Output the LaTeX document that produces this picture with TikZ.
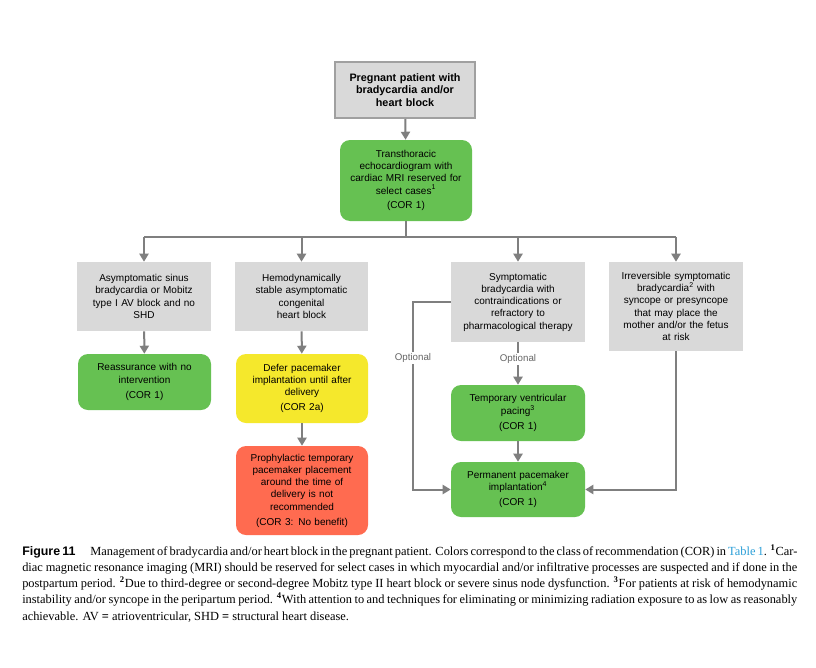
\documentclass[tikz,border=0pt]{standalone}
\usepackage{fontspec}
\setmainfont{Liberation Serif}
\newfontfamily\arial{Liberation Sans}
\usetikzlibrary{arrows.meta}
\definecolor{boxgray}{HTML}{D9D9D9}
\definecolor{bordergray}{HTML}{A0A0A0}
\definecolor{corgreen}{HTML}{66C152}
\definecolor{coryellow}{HTML}{F5E82C}
\definecolor{corred}{HTML}{FF6B50}
\definecolor{arrgray}{HTML}{7F7F7F}
\definecolor{linkblue}{HTML}{2B9FD8}
\newcommand{\capline}[1]{\makebox[581.25pt][s]{#1}}
\newcommand{\caplast}[1]{\makebox[581.25pt][l]{#1}}
\newcommand{\fnum}[1]{\textsuperscript{\textbf{#1}}}
\tikzset{
  sz/.style 2 args={minimum width={#1*0.75pt}, minimum height={#2*0.75pt}, text width={(#1-6)*0.75pt}},
  box/.style={inner sep=0pt, align=center, font=\arial\fontsize{7.5}{9.2}\selectfont},
  graybox/.style={box, fill=boxgray},
  greenbox/.style={box, fill=corgreen, rounded corners=7.5pt},
  yellowbox/.style={box, fill=coryellow, rounded corners=7.5pt},
  redbox/.style={box, fill=corred, rounded corners=7.5pt},
  conn/.style={draw=arrgray, line width=1.5pt},
  arr/.style={conn, -{Triangle[width=6.75pt,length=6pt]}},
  optlabel/.style={fill=white, inner sep=1pt, text=arrgray!80!black, font=\arial\fontsize{7.3}{8}\selectfont},
}
\begin{document}
\begin{tikzpicture}[x=0.75pt,y=-0.75pt]
\useasboundingbox (0,0) rectangle (816,667);
\fill[white] (0,0) rectangle (816,667);

\node[graybox, sz={140}{56}, draw=bordergray, line width=1.5pt, font=\arial\bfseries\fontsize{8.1}{9.4}\selectfont] (top) at (405,90)
  {Pregnant patient with\\bradycardia and/or\\heart block};
\node[greenbox, sz={132}{81}] (tte) at (406,180.5)
  {Transthoracic\\echocardiogram with\\cardiac MRI reserved for\\select cases\textsuperscript{1}\\[2pt](COR 1)};

\node[graybox, sz={134}{69}] (A) at (144,296.5)
  {Asymptomatic sinus\\bradycardia or Mobitz\\type I AV block and no\\SHD};
\node[graybox, sz={133}{69}] (B) at (301.5,296.5)
  {Hemodynamically\\stable asymptomatic\\congenital\\heart block};
\node[graybox, sz={134}{80}] (C) at (518,302)
  {Symptomatic\\bradycardia with\\contraindications or\\refractory to\\pharmacological therapy};
\node[graybox, sz={134}{89}] (D) at (676,306.5)
  {Irreversible symptomatic\\bradycardia\textsuperscript{2} with\\syncope or presyncope\\that may place the\\mother and/or the fetus\\at risk};

\node[greenbox, sz={133}{56}] (reas) at (144.5,382)
  {Reassurance with no\\intervention\\[2pt](COR 1)};
\node[yellowbox, sz={132}{69}] (defer) at (302,388.5)
  {Defer pacemaker\\implantation until after\\delivery\\[2pt](COR 2a)};
\node[redbox, sz={132}{89}] (proph) at (302,490.5)
  {Prophylactic temporary\\pacemaker placement\\around the time of\\delivery is not\\recommended\\[2pt](COR 3: No benefit)};
\node[greenbox, sz={134}{56}] (temp) at (518,413)
  {Temporary ventricular\\pacing\textsuperscript{3}\\[2pt](COR 1)};
\node[greenbox, sz={134}{55}] (perm) at (518,489.5)
  {Permanent pacemaker\\implantation\textsuperscript{4}\\[2pt](COR 1)};

\coordinate (bus) at (406,237);
\coordinate (lx) at (413,400);

\draw[arr] (top) -- (tte);
\draw[conn] (tte.south) -- (bus);
\draw[conn] (bus -| A.north) -- (bus -| D.north);
\foreach \n in {A,B,C,D} \draw[arr] (bus -| \n.north) -- (\n.north);
\draw[arr] (A) -- (reas);
\draw[arr] (B) -- (defer);
\draw[arr] (defer) -- (proph);
\draw[arr] (C) -- node[optlabel, pos=0.4] {Optional} (temp);
\draw[arr] (temp) -- (perm);
\draw[arr] (C.west) -- (C.west -| lx) -- node[optlabel, pos=0.3] {Optional} (perm.west -| lx) -- (perm.west);
\draw[arr] (D.south) |- (perm.east);

\node[anchor=north west, inner sep=0pt, align=left, font=\fontsize{9.3}{12.2}\selectfont] (cap) at (22,544)
  {\capline{{\arial\bfseries Figure 11}\hspace{1.2em}Management of bradycardia and/or heart block in the pregnant patient. Colors correspond to the class of recommendation (COR) in \textcolor{linkblue}{Table 1}. \fnum{1}Car-}\\
   \capline{diac magnetic resonance imaging (MRI) should be reserved for select cases in which myocardial and/or infiltrative processes are suspected and if done in the}\\
   \capline{postpartum period. \fnum{2}Due to third-degree or second-degree Mobitz type II heart block or severe sinus node dysfunction. \fnum{3}For patients at risk of hemodynamic}\\
   \capline{instability and/or syncope in the peripartum period. \fnum{4}With attention to and techniques for eliminating or minimizing radiation exposure to as low as reasonably}\\
   \caplast{achievable. AV \textbf{=} atrioventricular, SHD \textbf{=} structural heart disease.}};
\end{tikzpicture}
\end{document}
